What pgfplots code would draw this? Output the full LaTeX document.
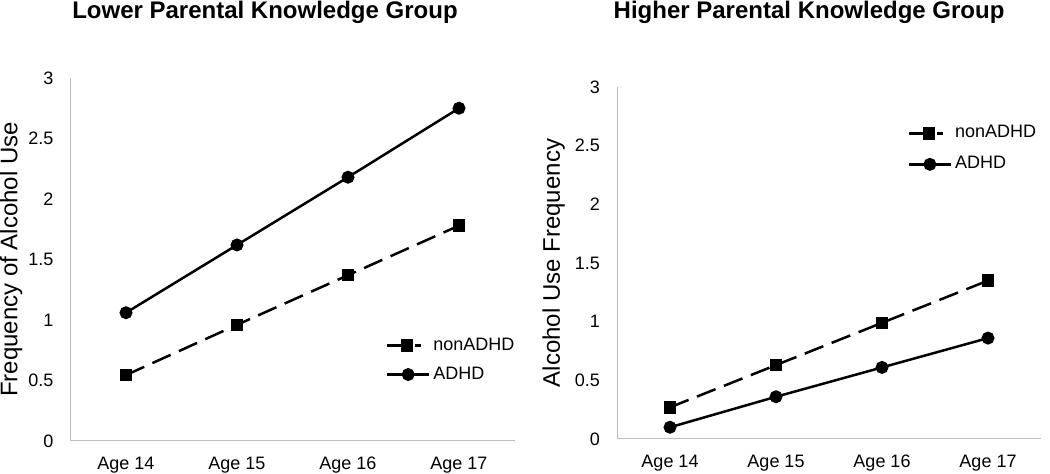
\documentclass[border=0pt]{standalone}
\usepackage{pgfplots}
\pgfplotsset{compat=1.18}
\usepackage{fontspec}
\setmainfont{Liberation Sans}
\definecolor{axgray}{RGB}{190,190,190}

\pgfplotstableread{
x nonADHD ADHD
0 0.545 1.06
1 0.96 1.62
2 1.37 2.18
3 1.78 2.75
}\lowertab
\pgfplotstableread{
x nonADHD ADHD
0 0.27 0.10
1 0.63 0.36
2 0.99 0.61
3 1.35 0.86
}\highertab

\pgfplotsset{
  panel/.style={
    scale only axis,
    anchor=south west,
    xmin=-0.5, xmax=3.5, ymin=0, ymax=3,
    xtick={0,1,2,3},
    xticklabels={Age 14,Age 15,Age 16,Age 17},
    ytick={0,0.5,1,1.5,2,2.5,3},
    yticklabels={0,0.5,1,1.5,2,2.5,3},
    axis x line=bottom, axis y line=left,
    axis line style={draw=axgray, line width=1bp, -},
    major tick length=0pt,
    tick label style={font=\fontsize{18bp}{21bp}\selectfont},
    /pgf/number format/assume math mode=true,
    xticklabel style={anchor=north, inner sep=0pt, yshift=-15bp, text height=13bp, text depth=4bp},
    yticklabel style={anchor=east, inner sep=0pt, xshift=-17bp},
    ylabel style={font=\fontsize{24bp}{28bp}\selectfont, inner sep=0pt, anchor=south, rotate=0},
    every axis title shift=0pt,
    title style={font=\bfseries\fontsize{24bp}{28bp}\selectfont, anchor=base, inner sep=0pt},
    legend cell align=left,
    legend style={draw=none, fill=none, inner sep=0pt, row sep=12bp,
      font=\fontsize{18bp}{21bp}\selectfont,
      nodes={inner sep=0pt, text height=13bp, text depth=4bp},
      column sep=3bp, anchor=north west},
    legend image code/.code={
      \draw[mark repeat=2,mark phase=2,#1] plot coordinates {(0bp,0bp) (21bp,0bp) (42bp,0bp)};
    },
  },
  nonadhd/.style={black, line width=2.5bp, dash pattern=on 20bp off 9bp,
    mark=square*, mark size=5bp, mark options={solid},
    legend image code/.code={
      \draw[mark repeat=2,mark phase=2,##1, dash pattern=on 26bp off 2bp on 6bp off 20bp]
        plot coordinates {(0bp,0bp) (20bp,0bp) (42bp,0bp)};
    }},
  adhd/.style={black, line width=2.5bp, solid, mark=*, mark size=5.2bp},
}

\begin{document}
\begin{tikzpicture}[x=1bp,y=1bp]
\path[use as bounding box] (0,0) rectangle (1050,474);
\begin{axis}[panel, at={(70.5bp,33bp)}, width=444bp, height=363bp,
  ylabel={Frequency of Alcohol Use},
  every axis y label/.append style={at={(axis description cs:-0.108,0.5)}},
  title={Lower Parental Knowledge Group},
  every axis title/.append style={at={(axis description cs:0.438,1)}, yshift=59bp},
  legend style={at={(axis description cs:0.71,0.287)}},
]
\addplot[nonadhd] table[x=x,y=nonADHD] {\lowertab};
\addlegendentry{nonADHD}
\addplot[adhd] table[x=x,y=ADHD] {\lowertab};
\addlegendentry{ADHD}
\end{axis}
\begin{axis}[panel, at={(617bp,35bp)}, width=424bp, height=352bp,
  ylabel={Alcohol Use Frequency},
  every axis y label/.append style={at={(axis description cs:-0.1226,0.5)}},
  title={Higher Parental Knowledge Group},
  every axis title/.append style={at={(axis description cs:0.453,1)}, yshift=68bp},
  legend style={at={(axis description cs:0.685,0.893)}, row sep=14bp},
]
\addplot[nonadhd] table[x=x,y=nonADHD] {\highertab};
\addlegendentry{nonADHD}
\addplot[adhd] table[x=x,y=ADHD] {\highertab};
\addlegendentry{ADHD}
\end{axis}
\end{tikzpicture}
\end{document}
